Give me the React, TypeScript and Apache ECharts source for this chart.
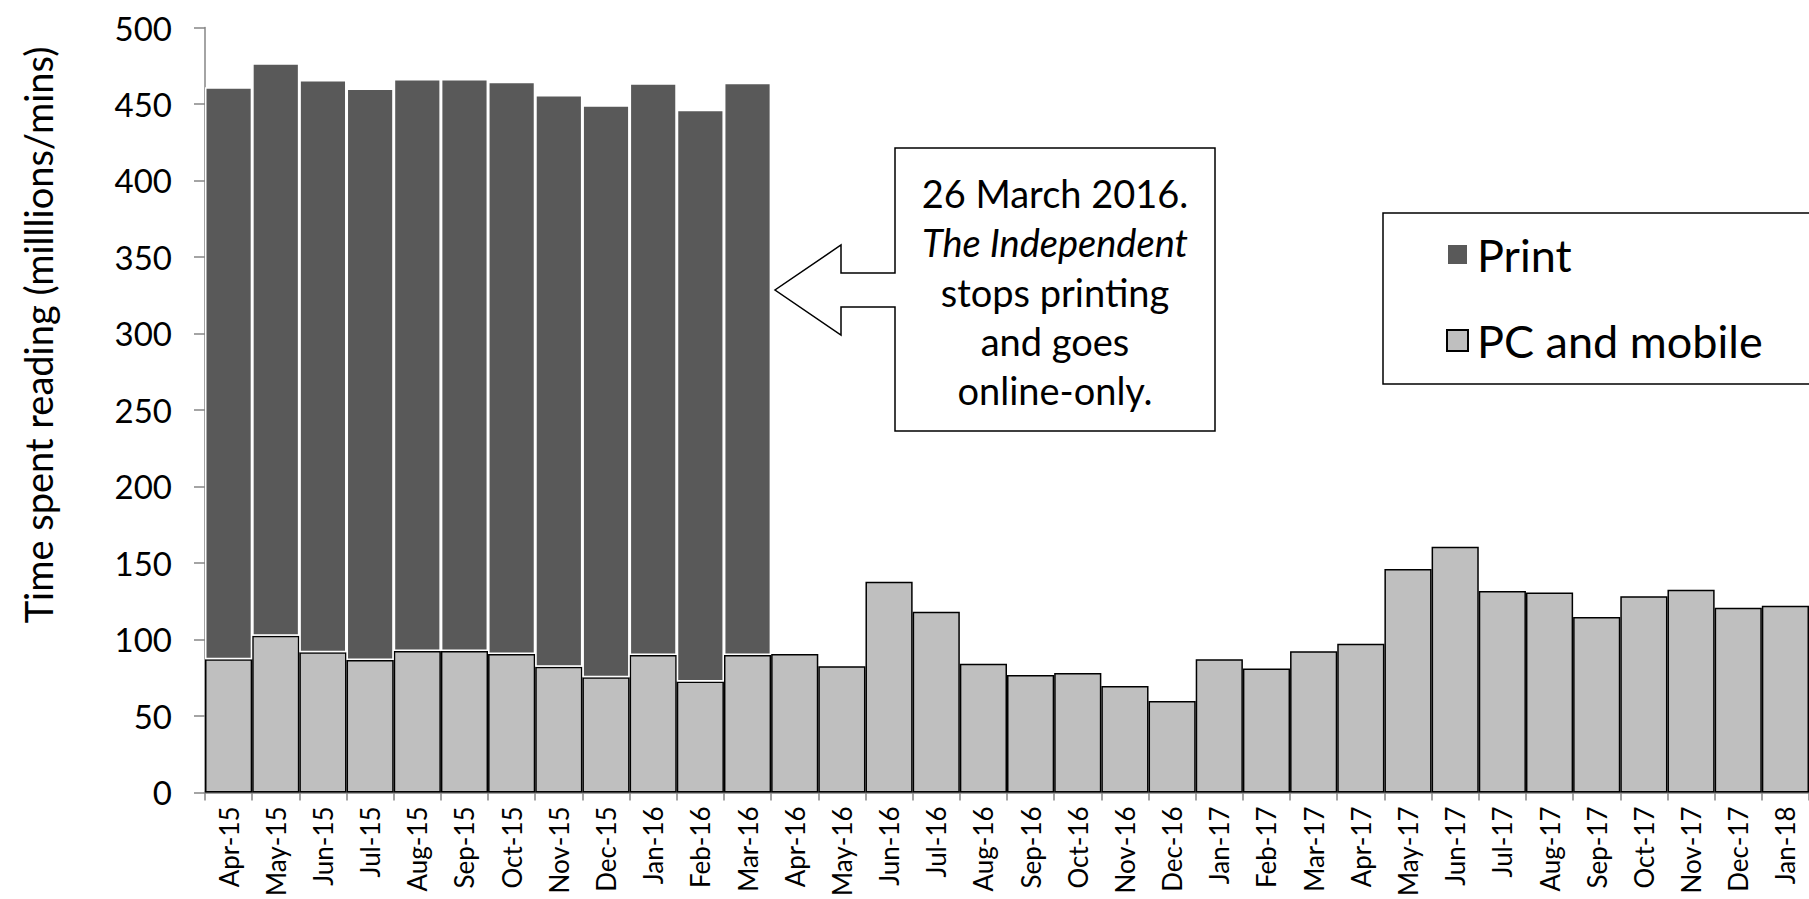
import React, { useEffect, useRef } from "react";
import * as echarts from "echarts";

// Monthly categories, April 2015 to January 2018
const months = [
  "Apr-15", "May-15", "Jun-15", "Jul-15", "Aug-15", "Sep-15", "Oct-15", "Nov-15",
  "Dec-15", "Jan-16", "Feb-16", "Mar-16", "Apr-16", "May-16", "Jun-16", "Jul-16",
  "Aug-16", "Sep-16", "Oct-16", "Nov-16", "Dec-16", "Jan-17", "Feb-17", "Mar-17",
  "Apr-17", "May-17", "Jun-17", "Jul-17", "Aug-17", "Sep-17", "Oct-17", "Nov-17",
  "Dec-17", "Jan-18",
];

// Time spent reading on PC and mobile (millions of minutes)
const pcMobile = [
  87.1, 102.4, 91.7, 86.5, 92.4, 92.4, 90.4, 82.1, 75.2, 89.8, 72.5, 89.8,
  90.5, 82.4, 137.7, 118.1, 84.1, 76.7, 78.0, 69.5, 59.7, 87.1, 81.0, 92.2,
  97.2, 146.0, 160.6, 131.6, 130.7, 114.6, 128.3, 132.5, 120.7, 122.0,
];

// Time spent reading the print edition (ends March 2016)
const printEdition: (number | string)[] = [
  373.8, 374.3, 374.0, 373.7, 373.9, 373.9, 374.2, 373.8, 373.9, 373.7, 373.8, 374.1,
  "-", "-", "-", "-", "-", "-", "-", "-", "-", "-", "-", "-",
  "-", "-", "-", "-", "-", "-", "-", "-", "-", "-",
];

const yTicks = { min: 0, max: 500, interval: 50 };

const axisTitle = "Time spent reading (milllions/mins)";
const calloutLines = [
  "26 March 2016.",
  "The Independent",
  "stops printing",
  "and goes",
  "online-only.",
];

const FONT = "Lato, 'Open Sans', sans-serif";

export default function App() {
  const ref = useRef<HTMLDivElement>(null);

  useEffect(() => {
    if (!ref.current) return;
    const chart = echarts.init(ref.current, undefined, { renderer: "svg" });

    const lineY = [192.5, 242, 291.5, 341, 390];

    chart.setOption({
      animation: false,
      backgroundColor: "#fff",
      textStyle: { fontFamily: FONT },
      grid: { left: 205, top: 27.5, bottom: 105.5, right: -10, containLabel: false },
      legend: {
        orient: "vertical",
        left: 1383,
        top: 213,
        padding: [19, 300, 21, 63],
        itemWidth: 21,
        itemHeight: 21,
        itemGap: 41,
        icon: "rect",
        borderColor: "#000",
        borderWidth: 1.5,
        selectedMode: false,
        textStyle: { fontSize: 45, lineHeight: 44, color: "#000", fontFamily: FONT, padding: [0, 0, 0, 4] },
        data: ["Print", "PC and mobile"],
      },
      xAxis: {
        type: "category",
        data: months,
        boundaryGap: true,
        axisLine: { lineStyle: { color: "#868686", width: 2.5 } },
        axisTick: { show: true, length: 8, lineStyle: { color: "#868686", width: 1.5 } },
        axisLabel: { rotate: 90, fontSize: 26, color: "#000", margin: 14, interval: 0, fontFamily: FONT },
      },
      yAxis: {
        type: "value",
        min: yTicks.min,
        max: yTicks.max,
        interval: yTicks.interval,
        axisLine: { show: true, lineStyle: { color: "#868686", width: 1.5 } },
        axisTick: { show: true, length: 11, lineStyle: { color: "#868686", width: 1.5 } },
        splitLine: { show: false },
        axisLabel: { fontSize: 33, color: "#000", margin: 33, fontFamily: FONT },
      },
      series: [
        {
          name: "PC and mobile",
          type: "bar",
          stack: "total",
          data: pcMobile,
          barCategoryGap: "0%",
          itemStyle: { color: "#BFBFBF", borderColor: "#000", borderWidth: 1.5 },
          emphasis: { disabled: true },
        },
        {
          name: "Print",
          type: "bar",
          stack: "total",
          data: printEdition,
          barCategoryGap: "0%",
          itemStyle: { color: "#595959", borderColor: "#fff", borderWidth: 1.5 },
          emphasis: { disabled: true },
        },
      ],
      graphic: [
        {
          type: "text",
          x: 38,
          y: 335,
          rotation: Math.PI / 2,
          style: {
            text: axisTitle,
            fontSize: 38,
            fontFamily: FONT,
            fill: "#000",
            align: "center",
            verticalAlign: "middle",
          },
        },
        {
          type: "polygon",
          shape: {
            points: [
              [895, 148], [1215, 148], [1215, 431], [895, 431], [895, 307],
              [841, 307], [841, 335], [775, 290], [841, 245], [841, 273], [895, 273],
            ],
          },
          style: { fill: "#fff", stroke: "#000", lineWidth: 1.5 },
        },
        ...calloutLines.map((t, i) => ({
          type: "text",
          x: 1055,
          y: lineY[i],
          style: {
            text: t,
            fontSize: 38,
            fontFamily: FONT,
            fontStyle: i === 1 ? "italic" : "normal",
            fill: "#000",
            align: "center",
            verticalAlign: "middle",
          },
        })),
      ],
    });

    return () => chart.dispose();
  }, []);

  return (
    <div
      ref={ref}
      style={{ position: "fixed", left: 0, top: 0, width: 1809, height: 899, background: "#fff" }}
    />
  );
}
